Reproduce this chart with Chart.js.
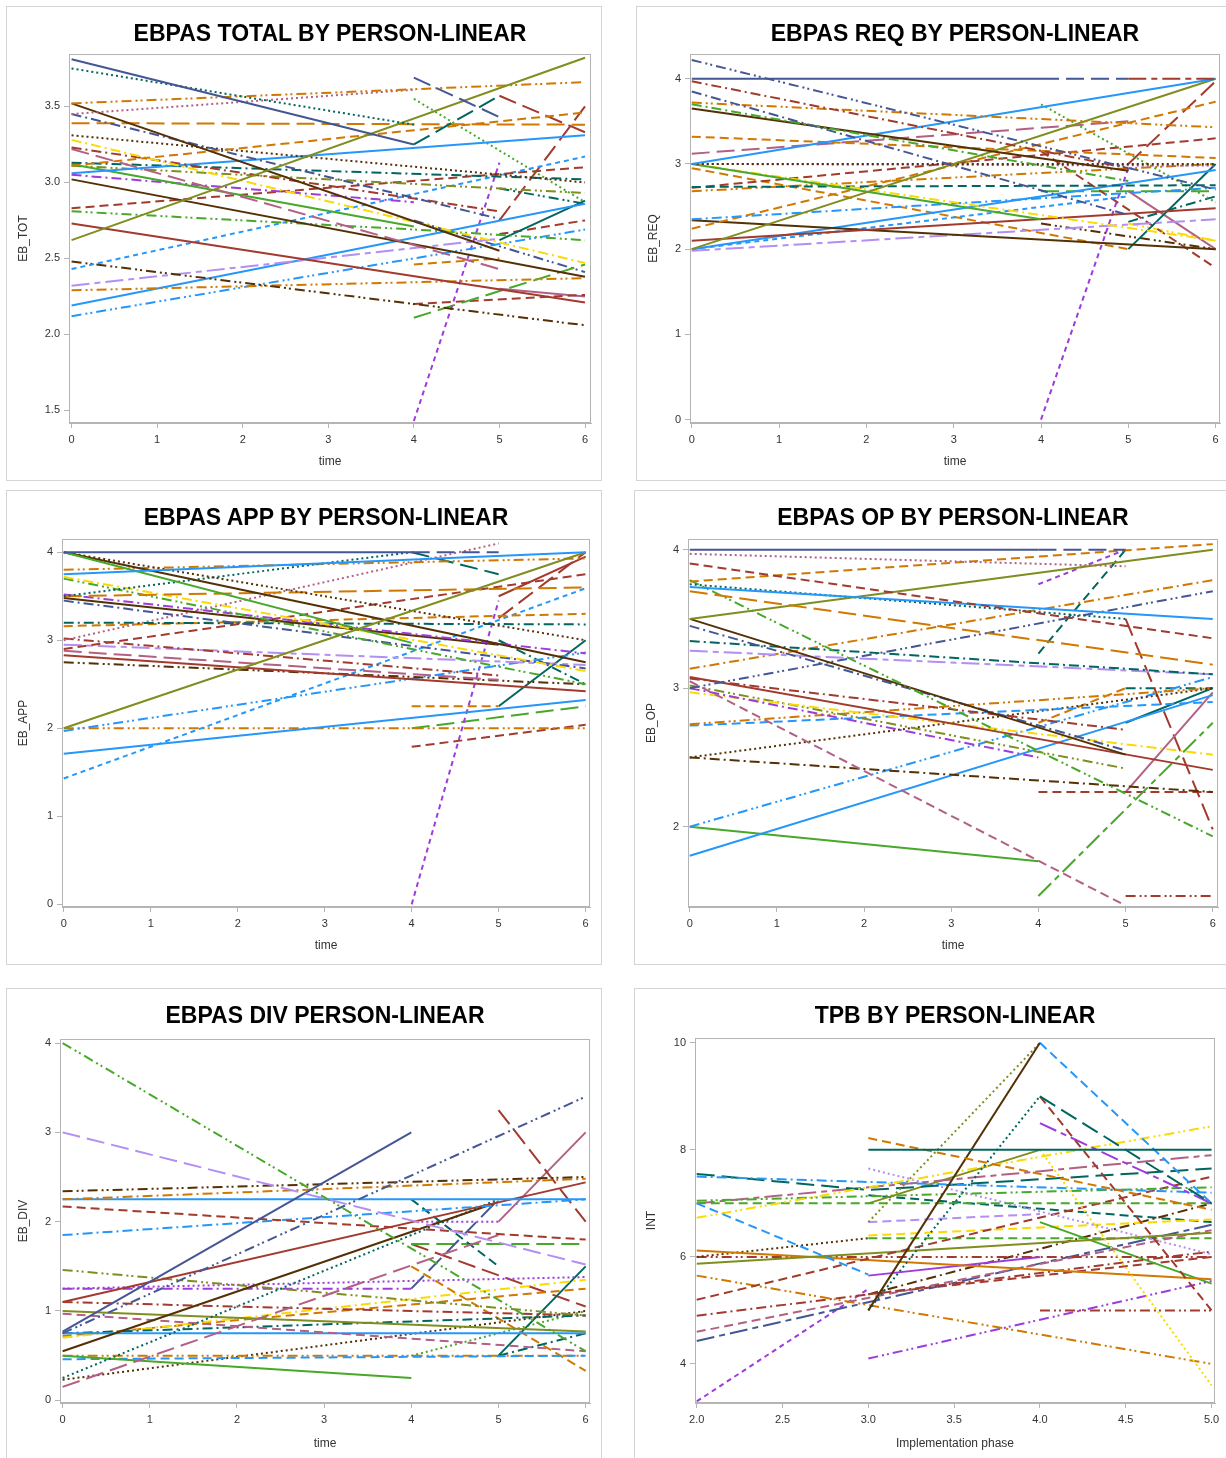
<!DOCTYPE html>
<html lang="en">
<head>
<meta charset="UTF-8">
<title>EBPAS / TPB by person - linear</title>
<script src="https://cdn.jsdelivr.net/npm/chart.js"></script>
<style>
  html, body { margin: 0; padding: 0; background: #fff; }
  body { width: 1226px; height: 1458px; position: relative; overflow: hidden; font-family: "Liberation Sans", Arial, sans-serif; }
  .panel { position: absolute; width: 594px; height: 473px; border: 1px solid #d4d4d4; background: #fff; }
  .panel canvas { position: absolute; left: 0; top: 0; }
  .panel .title { position: absolute; top: 13px; font-weight: bold; font-size: 23px; line-height: 27px; text-align: center; color: #000; white-space: nowrap; }
</style>
</head>
<body>
<script>
// tick labels
const timeTicks = ['0', '1', '2', '3', '4', '5', '6'];
const phaseTicks = ['2.0', '2.5', '3.0', '3.5', '4.0', '4.5', '5.0'];
const totYTicks = ['1.5', '2.0', '2.5', '3.0', '3.5'];
const reqYTicks = ['0', '1', '2', '3', '4'];
const appYTicks = ['0', '1', '2', '3', '4'];
const opYTicks = ['2', '3', '4'];
const divYTicks = ['0', '1', '2', '3', '4'];
const tpbYTicks = ['4', '6', '8', '10'];

// one entry per person: time, value, time, value ...
const totLines = [
  [0,3.81, 4,3.25], [4,3.69, 5,3.43], [0,3.75, 4,3.38], [4,3.25, 5,3.57], [0,2.62, 6,3.82],
  [0,3.52, 6,3.66], [0,3.45, 4,3.61], [0,3.52, 5,2.55], [0,3.45, 5,2.76], [0,3.39, 6,3.38],
  [0,3.11, 6,3.46], [0,3.31, 6,3.00], [0,3.28, 6,2.47], [0,3.23, 5,2.81], [0,3.22, 5,2.43],
  [0,3.06, 6,3.31], [0,3.13, 6,3.02], [0,3.12, 4,2.71], [0,3.11, 6,2.93], [0,3.05, 4,2.87],
  [0,3.02, 6,2.38], [0,2.83, 6,3.10], [0,2.81, 4,2.69, 6,2.62], [0,2.73, 6,2.21], [0,2.43, 6,3.17],
  [0,2.48, 6,2.06], [0,2.32, 5,2.63], [0,2.29, 6,2.37], [0,2.19, 6,2.86], [0,2.12, 6,2.69],
  [4,1.43, 5,3.13], [4,2.11, 6,2.46], [4,2.20, 6,2.26], [4,2.46, 5,2.50], [4,3.55, 6,2.87],
  [5,3.57, 6,3.33], [5,2.75, 6,3.50], [5,2.62, 6,2.88], [5,2.96, 6,2.86], [5,2.66, 6,2.75],
  [4,2.75, 6,2.41], [5,2.30, 6,2.25]
];
const reqLines = [
  [0,4.22, 6,2.70], [0,4.00, 4,4.00], [4,4.00, 5,4.00], [5,4.00, 6,4.00], [0,3.97, 5,2.95],
  [0,3.85, 5,2.40], [0,3.72, 6,3.43], [0,3.70, 5,2.80], [0,3.65, 5,2.92], [0,3.00, 6,4.00],
  [0,2.00, 6,4.00], [0,3.32, 6,3.07], [0,3.12, 5,3.50], [0,3.00, 6,3.00], [0,3.00, 6,2.98],
  [0,3.00, 4,2.35], [0,3.00, 6,2.10], [0,2.73, 6,2.75], [0,2.72, 6,3.30], [0,2.68, 6,3.00],
  [0,2.35, 6,2.72], [0,2.24, 6,3.73], [0,2.10, 6,2.48], [0,2.34, 6,2.00], [0,2.00, 6,2.93],
  [0,1.98, 6,2.35], [0,2.00, 5,2.62], [0,2.95, 5,2.00], [4,0.00, 5,2.95], [4,3.70, 6,2.55],
  [5,2.00, 6,3.00], [5,3.00, 6,3.97], [5,2.68, 6,2.00], [4,3.15, 6,1.78], [4,2.30, 6,2.00],
  [5,2.30, 6,2.10], [4,2.68, 6,2.68], [5,2.32, 6,2.62]
];
const appLines = [
  [0,4.00, 4,4.00], [4,4.00, 5,4.00], [0,3.75, 6,4.00], [0,2.00, 6,4.00], [0,4.00, 4,2.97],
  [0,4.00, 6,2.75], [0,4.00, 6,3.00], [0,3.50, 4,4.00], [0,3.80, 6,3.93], [0,3.50, 6,3.60],
  [0,3.72, 6,2.65], [0,3.70, 6,2.50], [0,3.52, 6,2.85], [0,3.48, 5,2.95], [0,3.45, 6,2.68],
  [0,3.20, 6,3.18], [0,3.16, 6,3.30], [0,3.00, 5,4.10], [0,2.90, 6,3.75], [0,3.02, 5,2.60],
  [0,2.95, 6,2.72], [0,2.88, 5,2.55], [0,2.83, 6,2.42], [0,2.75, 6,2.50], [0,1.97, 6,2.86],
  [0,1.43, 6,3.59], [0,1.71, 6,2.32], [0,2.00, 6,2.00], [4,0.00, 5,3.45], [4,2.25, 5,2.25],
  [4,2.00, 6,2.25], [4,1.79, 6,2.04], [5,2.25, 6,3.00], [4,4.00, 5,3.75], [5,3.50, 6,3.95],
  [5,3.25, 6,4.00], [5,3.00, 6,2.50]
];
const opLines = [
  [0,4.00, 4,4.00], [4,4.00, 5,4.00], [0,3.97, 5,3.88], [0,3.90, 6,3.36], [0,3.77, 6,4.04],
  [0,3.73, 6,3.50], [0,3.75, 5,3.50], [0,3.70, 6,3.17], [0,3.78, 6,1.93], [0,3.50, 6,4.00],
  [0,3.50, 5,2.52], [0,3.45, 5,2.55], [0,3.34, 6,3.10], [0,3.27, 6,3.10], [0,3.14, 6,3.78],
  [0,3.00, 6,3.70], [0,3.08, 6,2.41], [0,3.07, 5,2.70], [0,3.05, 5,1.43], [0,3.00, 4,2.50],
  [0,2.97, 6,2.52], [0,3.02, 5,2.42], [0,2.74, 6,3.00], [0,2.73, 6,2.90], [0,2.50, 6,3.00],
  [0,2.50, 6,2.25], [0,2.00, 6,3.08], [0,1.79, 6,2.95], [0,2.00, 4,1.75], [4,1.50, 6,2.75],
  [4,2.25, 6,2.25], [5,1.50, 6,1.50], [4,3.25, 5,4.00], [4,3.75, 5,4.00], [5,2.25, 6,2.97],
  [5,3.50, 6,1.98], [5,2.75, 6,3.00], [5,3.00, 6,3.00], [4,2.75, 5,3.00]
];
const divLines = [
  [0,4.00, 6,0.55], [0,3.00, 6,1.52], [0,0.77, 4,3.00], [0,0.75, 6,3.40], [0,2.34, 6,2.50],
  [0,2.25, 6,2.48], [0,2.25, 6,2.25], [0,2.17, 6,1.80], [0,1.85, 6,2.25], [0,1.10, 6,2.44],
  [0,0.55, 5,2.22], [0,0.25, 5,2.25], [0,0.15, 5,1.85], [0,1.46, 6,0.95], [0,1.25, 6,1.38],
  [0,1.25, 4,1.25], [4,1.25, 5,2.25], [0,1.10, 6,0.95], [0,1.00, 6,0.77], [0,0.97, 6,0.55],
  [0,0.75, 6,0.75], [0,0.75, 6,0.95], [0,0.70, 6,1.35], [0,0.72, 6,1.25], [0,0.50, 4,0.25],
  [0,0.46, 6,0.50], [0,0.50, 6,0.50], [0,0.23, 6,1.00], [4,1.50, 6,0.33], [4,2.25, 5,1.50],
  [5,3.25, 6,2.00], [5,2.00, 6,3.00], [4,2.00, 5,2.00], [5,0.50, 6,1.50], [4,1.75, 6,1.75],
  [4,1.75, 6,1.05], [4,0.50, 6,1.00], [5,0.50, 6,0.75]
];
const tpbLines = [
  [3,8.00, 5,8.00], [3,8.22, 5,6.88], [3,5.00, 4,10.0], [3,6.65, 4,10.0], [4,10.0, 5,7.00],
  [2,7.00, 3,5.67], [3,5.00, 4,9.00], [4,9.00, 5,7.00], [4,9.00, 5,5.00], [4,8.50, 5,7.00],
  [2,6.73, 5,8.44], [4,8.00, 5,3.60], [2,7.50, 5,7.20], [2,7.55, 3,7.25, 5,7.65], [2,7.05, 5,7.30],
  [2,7.00, 5,7.00], [2,7.00, 5,7.90], [3,7.65, 5,6.05], [2,5.20, 5,7.50], [2,5.87, 5,6.45],
  [2,6.12, 5,5.58], [2,6.00, 3,6.35], [2,6.00, 5,6.00], [2,5.65, 5,4.00], [2,4.90, 5,6.10],
  [2,4.60, 5,6.50], [2,4.43, 5,6.60], [2,3.30, 3,5.40], [3,4.10, 5,5.55], [3,5.65, 4,6.00],
  [4,6.65, 5,5.50], [4,5.00, 5,5.00], [3,6.65, 4,6.80], [3,6.40, 5,6.70], [3,6.35, 5,6.35],
  [3,7.00, 4,8.00], [3,5.30, 5,6.00], [3,5.30, 5,7.00], [3,7.15, 5,6.65]
];

// line attributes, one code per person: colour letter + pattern letter
const totStyles = ('Gs Gl To Tl Os Nb Mo Bs Ga Nl Nd Bo Ya Ra Ml Ls Ta Es Ob Pa ' +
  'Bs Rd Eb Rs Lh Bb Vc Nb Ls Lb Ph El Rd Nd Eo Rl Rl Ts Tb Rd Gb Ms').split(' ');
const reqStyles = ('Gb Gs Gl Rc Ra Ga Nb Ea Bs Ls Os Nd Ml Bo Po Es Ya Td Rd Nb ' +
  'La Nd Rs Bs Ls Vc Lh Nd Ph Eo Ts Rl Ms Rd Bb Yb El Ta').split(' ');
const appStyles = ('Gs Gl Ls Os Es Bs Bo To Nb Nl Ya Eb Pa Bs Ga Ta Nd Mo Rd Ra ' +
  'Vc Ml Rs Bb Lb Lh Ls Nb Ph Nd El Rd Ts Tl Rs Rl Ta').split(' ');
const opStyles = ('Gs Gl Mo Rd Nd Ls To Nl Eb Os Bs Ga Ta Vc Na Gb Rs Ra Md Pa ' +
  'Ya Ob Nb Ld Bo Ba Lb Ls Es Ec Rd Rb Td Ph Ms Rl Ts Ta Nd').split(' ');
const divStyles = ('Eb Vl Gs Gb Bb Na Ls Rd La Rs Bs To Ml Ob Po Pa Gl Ra Os Md ' +
  'Ls Ta Ya Nd Es Ld Nb Bo Nd Td Rl Ms Po Ts El Rl Eo Ta').split(' ');
const tpbStyles = ('Ts Nd Bs Oo Ld Ld To Tl Rd Pc Yb Yo La Tl Eb Ed Mc Vo Rd Os ' +
  'Ns Bo Rb Nb Ra Md Gc Ph Pb Ps Es Rb Vd Yd Ed Os Rd Ba Td').split(' ');

const COLORS = {
  G: '#445694', R: '#A23A2E', T: '#01665E', B: '#543005', P: '#9D3CDB', O: '#7F8E1F',
  L: '#2597FA', M: '#B26084', N: '#D17800', E: '#47A82A', V: '#B38EF3', Y: '#F9DA04'
};
const DASHES = {
  s: [], h: [5, 4], d: [9, 5], l: [18, 7], o: [2, 3],
  a: [10, 4, 2, 4], b: [10, 4, 2, 3, 2, 4], c: [18, 5, 6, 5]
};

const panels = [
  { title: 'EBPAS TOTAL BY PERSON-LINEAR', lines: totLines, styles: totStyles, yTicks: totYTicks, xTicks: timeTicks,
    yLabel: 'EB_TOT', xLabel: 'time', xr: [-0.03, 6.07], yr: [1.417, 3.845],
    left: 6, top: 6, yw: 62, pr: 10, pt: 47, xh: 57 },
  { title: 'EBPAS REQ BY PERSON-LINEAR', lines: reqLines, styles: reqStyles, yTicks: reqYTicks, xTicks: timeTicks,
    yLabel: 'EB_REQ', xLabel: 'time', xr: [-0.02, 6.05], yr: [-0.04, 4.29],
    left: 636, top: 6, yw: 53, pr: 11, pt: 47, xh: 57 },
  { title: 'EBPAS APP BY PERSON-LINEAR', lines: appLines, styles: appStyles, yTicks: appYTicks, xTicks: timeTicks,
    yLabel: 'EB_APP', xLabel: 'time', xr: [-0.02, 6.05], yr: [-0.03, 4.15],
    left: 6, top: 490, yw: 55, pr: 11, pt: 48, xh: 57 },
  { title: 'EBPAS OP BY PERSON-LINEAR', lines: opLines, styles: opStyles, yTicks: opYTicks, xTicks: timeTicks,
    yLabel: 'EB_OP', xLabel: 'time', xr: [-0.02, 6.06], yr: [1.42, 4.077],
    left: 634, top: 490, yw: 53, pr: 11, pt: 48, xh: 57 },
  { title: 'EBPAS DIV PERSON-LINEAR', lines: divLines, styles: divStyles, yTicks: divYTicks, xTicks: timeTicks,
    yLabel: 'EB_DIV', xLabel: 'time', xr: [-0.03, 6.05], yr: [-0.03, 4.045],
    left: 6, top: 988, yw: 53, pr: 11, pt: 50, xh: 59 },
  { title: 'TPB BY PERSON-LINEAR', lines: tpbLines, styles: tpbStyles, yTicks: tpbYTicks, xTicks: phaseTicks,
    yLabel: 'INT', xLabel: 'Implementation phase', xr: [1.99, 5.02], yr: [3.27, 10.09],
    left: 634, top: 988, yw: 60, pr: 14, pt: 49, xh: 59 }
];

const AXIS_GRAY = '#b4b4b4';
const TEXT_GRAY = '#333';

// grey box round the plot area
const framePlugin = {
  id: 'frame',
  beforeDatasetsDraw(chart) {
    const a = chart.chartArea, ctx = chart.ctx;
    ctx.save();
    ctx.strokeStyle = AXIS_GRAY;
    ctx.lineWidth = 1;
    ctx.strokeRect(Math.round(a.left) + 0.5, Math.round(a.top) + 0.5, Math.round(a.width) - 1, Math.round(a.height) - 1);
    ctx.restore();
  }
};

function makePanel(p) {
  const box = document.createElement('div');
  box.className = 'panel';
  box.style.left = p.left + 'px';
  box.style.top = p.top + 'px';
  const cv = document.createElement('canvas');
  cv.width = 594;
  cv.height = 473;
  box.appendChild(cv);
  const t = document.createElement('div');
  t.className = 'title';
  t.textContent = p.title;
  t.style.left = p.yw + 'px';
  t.style.width = (594 - p.yw - p.pr) + 'px';
  box.appendChild(t);
  document.body.appendChild(box);

  const datasets = p.lines.map((ln, i) => {
    const pts = [];
    for (let k = 0; k < ln.length; k += 2) pts.push({ x: ln[k], y: ln[k + 1] });
    const st = p.styles[i];
    return {
      data: pts,
      borderColor: COLORS[st[0]],
      borderDash: DASHES[st[1]],
      borderWidth: 2,
      pointRadius: 0,
      fill: false,
      tension: 0
    };
  });

  const tickFont = { family: '"Liberation Sans", Arial, sans-serif', size: 11 };
  const titleFont = { family: '"Liberation Sans", Arial, sans-serif', size: 12 };

  new Chart(cv, {
    type: 'line',
    data: { datasets },
    options: {
      responsive: false,
      animation: false,
      events: [],
      layout: { padding: { top: p.pt, right: p.pr, bottom: 0, left: 0 } },
      plugins: { legend: { display: false }, tooltip: { enabled: false } },
      scales: {
        x: {
          type: 'linear',
          min: p.xr[0],
          max: p.xr[1],
          afterBuildTicks: s => { s.ticks = p.xTicks.map(v => ({ value: Number(v) })); },
          afterFit: s => { s.height = p.xh; },
          ticks: { autoSkip: false, maxRotation: 0, padding: 5, color: TEXT_GRAY, font: tickFont,
                   callback: (v, i) => p.xTicks[i] },
          grid: { drawOnChartArea: false, drawTicks: true, tickLength: 5, color: AXIS_GRAY },
          border: { display: true, color: AXIS_GRAY },
          title: { display: true, text: p.xLabel, color: TEXT_GRAY, font: titleFont, padding: { top: 4, bottom: 11 } }
        },
        y: {
          type: 'linear',
          min: p.yr[0],
          max: p.yr[1],
          afterBuildTicks: s => { s.ticks = p.yTicks.map(v => ({ value: Number(v) })); },
          afterFit: s => { s.width = p.yw; },
          ticks: { autoSkip: false, padding: 4, color: TEXT_GRAY, font: tickFont,
                   callback: (v, i) => p.yTicks[i] },
          grid: { drawOnChartArea: false, drawTicks: true, tickLength: 5, color: AXIS_GRAY },
          border: { display: true, color: AXIS_GRAY },
          title: { display: true, text: p.yLabel, color: TEXT_GRAY, font: titleFont, padding: { top: 9, bottom: 9 } }
        }
      }
    },
    plugins: [framePlugin]
  });
}

panels.forEach(makePanel);
</script>
</body>
</html>
